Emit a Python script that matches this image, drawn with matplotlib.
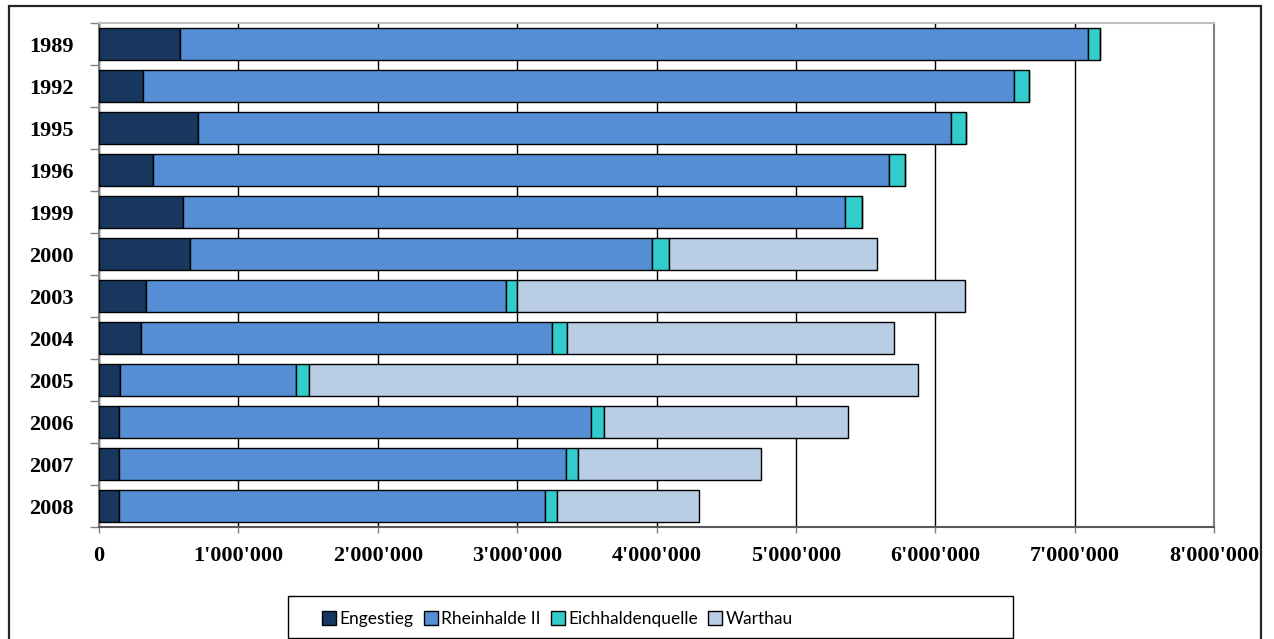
import matplotlib.pyplot as plt
import numpy as np
from matplotlib.patches import Rectangle
from matplotlib.ticker import FuncFormatter, FixedLocator

years = ['1989', '1992', '1995', '1996', '1999', '2000', '2003', '2004', '2005', '2006', '2007', '2008']
engestieg = [580000, 316000, 710000, 387000, 603000, 653000, 337000, 301000, 151000, 143000, 143000, 143000]
rheinhalde = [6515000, 6248000, 5400000, 5280000, 4748000, 3314000, 2583000, 2949000, 1262000, 3386000, 3207000, 3057000]
eichhalden = [85000, 107000, 108000, 115000, 122000, 122000, 79000, 107000, 93000, 94000, 86000, 85000]
warthau = [0, 0, 0, 0, 0, 1492000, 3213000, 2346000, 4369000, 1750000, 1313000, 1019000]

series = [
    ('Engestieg', engestieg, '#17375E'),
    ('Rheinhalde II', rheinhalde, '#558ED5'),
    ('Eichhaldenquelle', eichhalden, '#33CCCC'),
    ('Warthau', warthau, '#B9CDE5'),
]

W, H = 1274, 639
fig = plt.figure(figsize=(W / 100, H / 100), dpi=100)
ax = fig.add_axes([99 / W, 1 - 527 / H, (1214 - 99) / W, (527 - 23) / H])

y = np.arange(len(years))
left = np.zeros(len(years))
handles = []
for name, vals, col in series:
    vals = np.array(vals, dtype=float)
    b = ax.barh(y, vals, left=left, height=0.74, color=col, edgecolor='black',
                linewidth=1.0, label=name, zorder=3)
    handles.append(b)
    left += vals

ax.set_xlim(0, 8000000)
ax.set_ylim(len(years) - 0.5, -0.5)

ax.xaxis.set_major_locator(FixedLocator(np.arange(0, 8000001, 1000000)))
ax.xaxis.set_major_formatter(FuncFormatter(lambda v, p: '0' if v == 0 else f'{int(v):,}'.replace(',', "'")))
ax.grid(axis='x', color='black', linewidth=1.0, zorder=0)

ax.set_yticks(y)
ax.set_yticklabels(years)
ax.set_yticks(np.arange(-0.5, len(years)), minor=True)
ax.tick_params(axis='y', which='major', length=0, pad=18)
ax.tick_params(axis='y', which='minor', length=6.5, width=1, color='#808080', direction='out')
ax.tick_params(axis='x', which='major', length=4.5, width=1, color='#808080', pad=9)

for lab in ax.get_xticklabels() + ax.get_yticklabels():
    lab.set_fontfamily('Liberation Serif')
    lab.set_fontweight('bold')
    lab.set_fontsize(16)

ax.spines['top'].set_color('#BFBFBF')
ax.spines['right'].set_color('#808080')
ax.spines['left'].set_color('#808080')
ax.spines['bottom'].set_color('#595959')
for s in ax.spines.values():
    s.set_linewidth(1.5)

# outer chart border
fig.patches.append(Rectangle((9 / W, -0.05), (1261 - 9) / W, 1.05 - 6 / H,
                             transform=fig.transFigure, fill=False,
                             edgecolor='#262626', linewidth=1.6))

# legend box is wider than its entries
fig.patches.append(Rectangle((288 / W, 1 - 638 / H), (1013 - 288) / W, 42 / H,
                             transform=fig.transFigure, fill=False,
                             edgecolor='black', linewidth=1.0))
leg = fig.legend(handles=handles, loc='center left', bbox_to_anchor=(308 / W, 1 - 619 / H),
                 ncol=4, frameon=False, prop={'family': 'Lato', 'size': 12.5},
                 handlelength=0.8, handleheight=0.8, handletextpad=0.2,
                 columnspacing=0.6, borderpad=0.3)

fig.savefig('out.png', dpi=100)
